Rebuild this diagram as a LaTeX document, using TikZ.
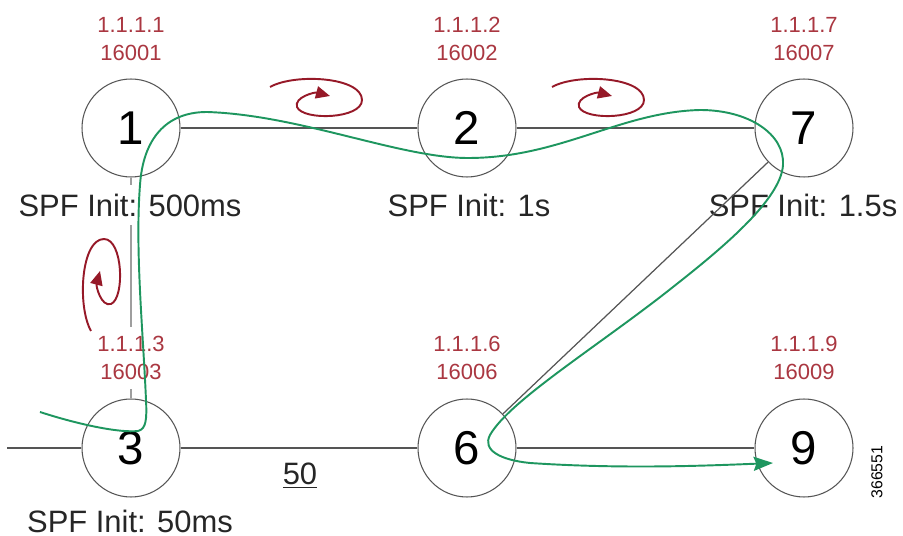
\documentclass[tikz,border=0pt]{standalone}
\usepackage{fontspec}
\setmainfont{Liberation Sans}
\usetikzlibrary{arrows.meta}

\definecolor{rlabel}{RGB}{170,55,65}
\definecolor{rspin}{RGB}{150,25,40}
\definecolor{glsp}{RGB}{30,150,95}
\definecolor{edge}{RGB}{85,85,85}

\tikzset{
  router/.style={circle,draw=edge,line width=0.6pt,minimum size=1.96cm,inner sep=0pt,font=\fontsize{27}{27}\selectfont},
  addr/.style={text=rlabel,align=center,fill=white,inner sep=5pt,font=\fontsize{12.5}{15.9}\selectfont},
  spf/.style={text=black!85,fill=white,inner sep=5pt,font=\fontsize{17.6}{20}\selectfont},
  wire/.style={draw=edge,line width=0.7pt},
  spin/.style={draw=rspin,line width=1.1pt,-{Triangle[length=8pt,width=7pt]}},
  lsp/.style={draw=glsp,line width=1.1pt,-{Stealth[length=11pt,width=8pt,inset=1.5pt]}}
}

\begin{document}
\begin{tikzpicture}[x=0.02cm,y=-0.02cm]
\useasboundingbox (0,0) rectangle (903,536);
%\draw[help lines,step=50] (0,0) grid (903,536);
\foreach \n/\x/\y in {1/131/128, 2/467/128, 7/804/128, 3/131/448, 6/467/448, 9/804/448}
  \node[router] (n\n) at (\x,\y) {\n};
\draw[draw=black!38,line width=1.6pt] (n1) -- (n3);
% address and SID labels
\foreach \n/\x/\y in {1/131/39, 2/467/39, 7/804/39, 3/131/358, 6/467/358, 9/804/358}
  \node[addr] (a\n) at (\x,\y) {1.1.1.\n\\1600\n};
\foreach \n/\x/\y/\t in {1/130/205/500ms, 2/469/205/1s, 7/803/205/1.5s, 3/130/521/50ms}
  \node[spf] (s\n) at (\x,\y) {SPF Init: \t};
\coordinate (west) at (7,448);
\foreach \s/\t in {n1/n2, n2/n7, west/n3, n3/n6, n6/n9, n6/n7}
  \draw[wire] (\s) -- (\t);
\node[spf,fill=none,inner sep=1pt] (cost) at (300,476) {\underline{50}};
\node[rotate=90,inner sep=0pt,font=\fontsize{9}{9}\selectfont] (fig) at (877,472) {366551};
% timer spirals
\foreach \cx/\cy/\r in {315/97/0, 597/97/0, 101/286/90}
  \draw[spin,shift={(\cx,\cy)},rotate=\r] (-45,-10) .. controls (-20,-24) and (47,-20) .. (47,3)
    .. controls (47,22) and (-12,24) .. (-18,10) .. controls (-21,0) and (0,-5) .. (15,-1);
% green path
\coordinate (src) at (40,412);
\coordinate (dst) at (773,463);
\draw[lsp] (src) .. controls (80,425) and (120,433) .. (138,431)
  .. controls (146,429) and (147,420) .. (146,400)
  .. controls (143,330) and (135,250) .. (140,185)
  .. controls (143,140) and (165,112) .. (207,112)
  .. controls (300,115) and (400,158) .. (468,158)
  .. controls (560,158) and (620,112) .. (700,110)
  .. controls (750,110) and (785,135) .. (783,165)
  .. controls (781,200) and (720,250) .. (673,287)
  .. controls (600,345) and (510,400) .. (490,435)
  .. controls (482,450) and (500,460) .. (530,463)
  .. controls (620,469) and (700,466) .. (dst);
\end{tikzpicture}
\end{document}
